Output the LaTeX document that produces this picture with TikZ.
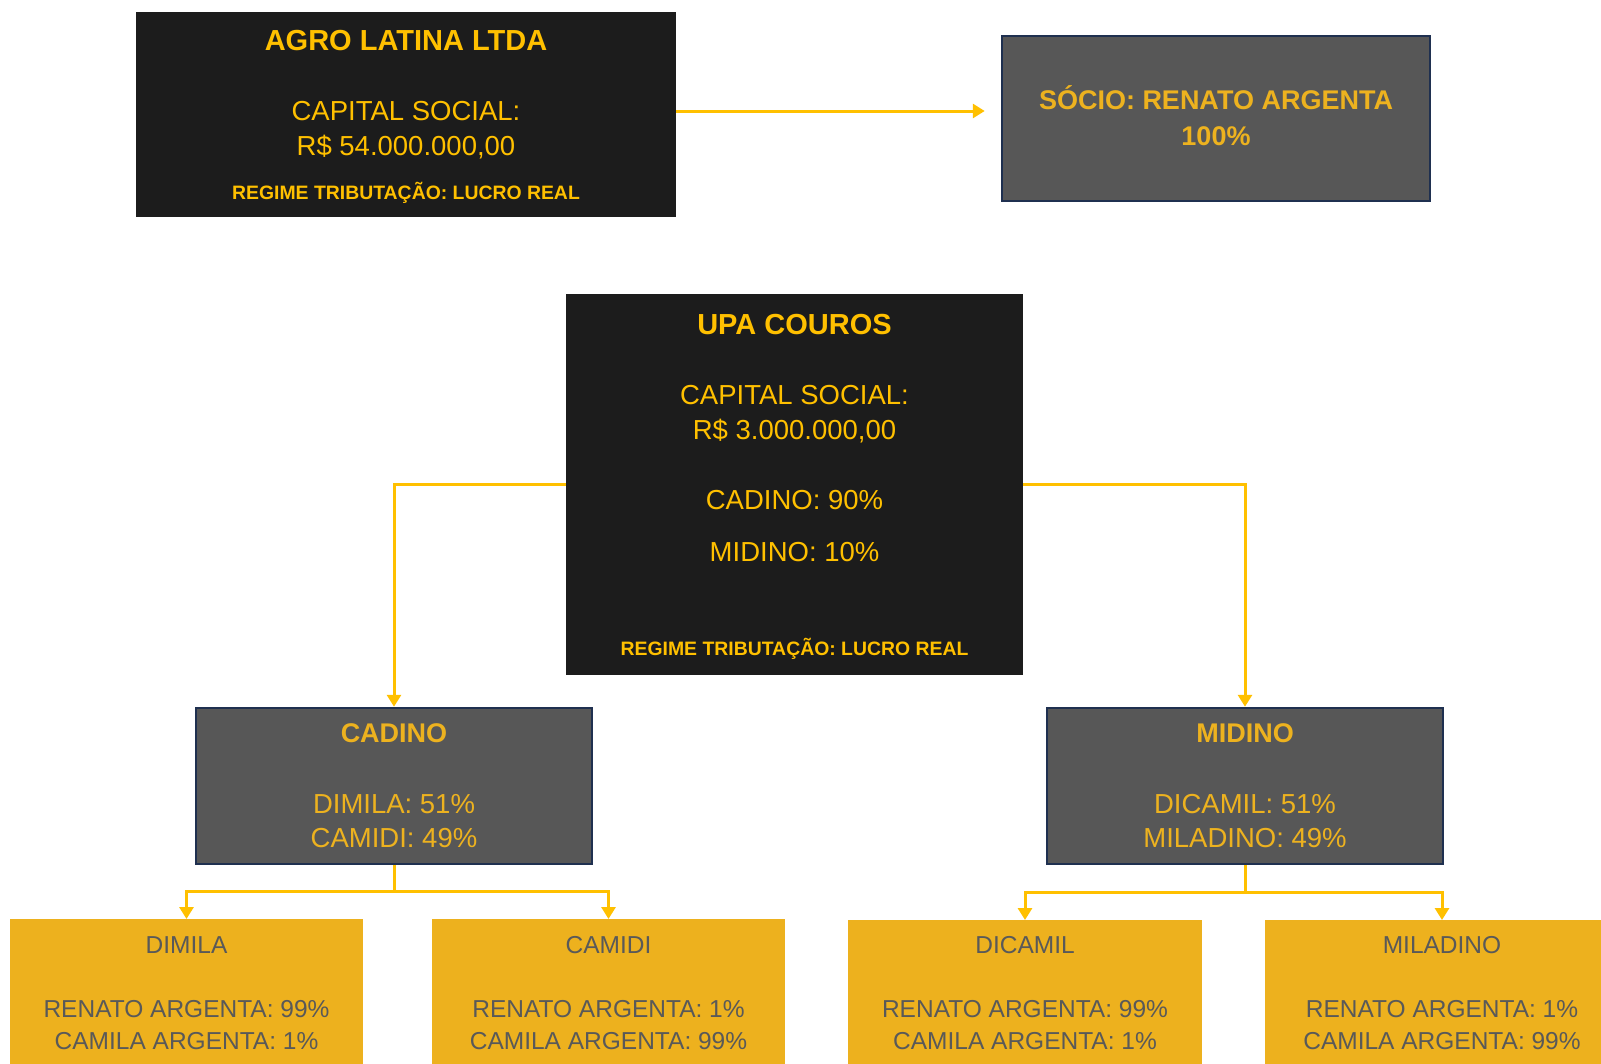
\documentclass[tikz,border=0pt]{standalone}
\usepackage{fontspec}
\setmainfont{Liberation Sans}
\usetikzlibrary{arrows.meta,positioning,calc}
\definecolor{boxdark}{HTML}{1C1C1C}
\definecolor{boxgrey}{HTML}{575757}
\definecolor{navy}{HTML}{1F3050}
\definecolor{goldtxt}{HTML}{FFC000}
\definecolor{goldsoft}{HTML}{EDB21F}
\definecolor{goldfill}{HTML}{EDB11E}
\definecolor{greytxt}{HTML}{595959}
\definecolor{linegold}{HTML}{FFC000}
\newcommand{\fs}[1]{\fontsize{#1}{#1}\selectfont}
\tikzset{
  darkbox/.style={draw=none, fill=boxdark, rectangle, inner sep=0},
  greybox/.style={draw=navy, line width=2.5pt, fill=boxgrey, rectangle, inner sep=0},
  goldbox/.style={draw=none, fill=goldfill, rectangle, inner sep=0},
  t/.style={inner sep=0, anchor=base, font=\fs{#1}, yshift=-0.358*#1},
  tb/.style={inner sep=0, anchor=base, font=\fs{#1}\bfseries, yshift=-0.358*#1},
  conn/.style={draw=linegold, line width=3pt, -{Triangle[width=14pt,length=12pt]}},
}
\begin{document}
\begin{tikzpicture}[x=1pt,y=-1pt]
\useasboundingbox (0,0) rectangle (1601,1063);
% boxes
\node[darkbox, minimum width=540pt, minimum height=205pt] (agro) at (406,114) {};
\node[greybox, minimum width=428pt, minimum height=165pt] (socio) at (1216,118.5) {};
\node[darkbox, minimum width=457pt, minimum height=381pt] (upa) at (794.5,484.5) {};
\node[greybox, minimum width=396pt, minimum height=156pt] (cadino) at (394,786) {};
\node[greybox, minimum width=396pt, minimum height=156pt] (midino) at (1245,786) {};
\node[goldbox, minimum width=353pt, minimum height=150pt, anchor=north] (dimila) at (186.5,919) {};
\node[goldbox, minimum width=353pt, minimum height=150pt, anchor=north] (camidi) at (608.5,919) {};
\node[goldbox, minimum width=354pt, minimum height=150pt, anchor=north] (dicamil) at (1025,920) {};
\node[goldbox, minimum width=354pt, minimum height=150pt, anchor=north] (miladino) at (1442,920) {};
% AGRO text
\node[tb=29, text=goldtxt] (agroT) at (406,40) {AGRO LATINA LTDA};
\node[t=27.5, text=goldtxt] (agroC) at (406,111) {CAPITAL SOCIAL:};
\node[t=27.5, text=goldtxt] (agroR) at (406,146) {R\$ 54.000.000,00};
\node[tb=19.4, text=goldtxt] (agroG) at (406,193) {REGIME TRIBUTAÇÃO: LUCRO REAL};
% SOCIO text
\node[tb=27, text=goldsoft] (socioT) at (1216,100) {SÓCIO: RENATO ARGENTA};
\node[tb=27, text=goldsoft] (socioP) at (1216,136) {100\%};
% UPA text
\node[tb=29, text=goldtxt] (upaT) at (794.5,324) {UPA COUROS};
\node[t=27.5, text=goldtxt] (upaC) at (794.5,395) {CAPITAL SOCIAL:};
\node[t=27.5, text=goldtxt] (upaR) at (794.5,430) {R\$ 3.000.000,00};
\node[t=27.5, text=goldtxt] (upaA) at (794.5,500) {CADINO: 90\%};
\node[t=27.5, text=goldtxt] (upaB) at (794.5,552) {MIDINO: 10\%};
\node[tb=19.4, text=goldtxt] (upaG) at (794.5,649) {REGIME TRIBUTAÇÃO: LUCRO REAL};
% CADINO text
\node[tb=27, text=goldsoft] (cadT) at (394,733) {CADINO};
\node[t=27.5, text=goldsoft] (cadA) at (394,804) {DIMILA: 51\%};
\node[t=27.5, text=goldsoft] (cadB) at (394,838) {CAMIDI: 49\%};
% MIDINO text
\node[tb=27, text=goldsoft] (midT) at (1245,733) {MIDINO};
\node[t=27.5, text=goldsoft] (midA) at (1245,804) {DICAMIL: 51\%};
\node[t=27.5, text=goldsoft] (midB) at (1245,838) {MILADINO: 49\%};
% bottom texts
\node[t=24.5, text=greytxt] (dimT) at (186.5,945) {DIMILA};
\node[t=24.5, text=greytxt] (dimA) at (186.5,1009) {RENATO ARGENTA: 99\%};
\node[t=24.5, text=greytxt] (dimB) at (186.5,1041) {CAMILA ARGENTA: 1\%};
\node[t=24.5, text=greytxt] (camT) at (608.5,945) {CAMIDI};
\node[t=24.5, text=greytxt] (camA) at (608.5,1009) {RENATO ARGENTA: 1\%};
\node[t=24.5, text=greytxt] (camB) at (608.5,1041) {CAMILA ARGENTA: 99\%};
\node[t=24.5, text=greytxt] (dicT) at (1025,945) {DICAMIL};
\node[t=24.5, text=greytxt] (dicA) at (1025,1009) {RENATO ARGENTA: 99\%};
\node[t=24.5, text=greytxt] (dicB) at (1025,1041) {CAMILA ARGENTA: 1\%};
\node[t=24.5, text=greytxt] (milT) at (1442,945) {MILADINO};
\node[t=24.5, text=greytxt] (milA) at (1442,1009) {RENATO ARGENTA: 1\%};
\node[t=24.5, text=greytxt] (milB) at (1442,1041) {CAMILA ARGENTA: 99\%};
% connectors
\coordinate (aout) at ([yshift=3pt]agro.east);
\draw[conn, shorten >=16pt] (aout) -- (aout -| socio.west);
\draw[conn] (upa.west) -| (cadino.north);
\draw[conn] (upa.east) -| (midino.north);
\coordinate (cj) at ($(cadino.south)+(0,26)$);
\coordinate (mj) at ($(midino.south)+(0,27)$);
\draw[conn] (cadino.south) -- (cj) -| (dimila.north);
\draw[conn] (cj) -| (camidi.north);
\draw[conn] (midino.south) -- (mj) -| (dicamil.north);
\draw[conn] (mj) -| (miladino.north);
\end{tikzpicture}
\end{document}
